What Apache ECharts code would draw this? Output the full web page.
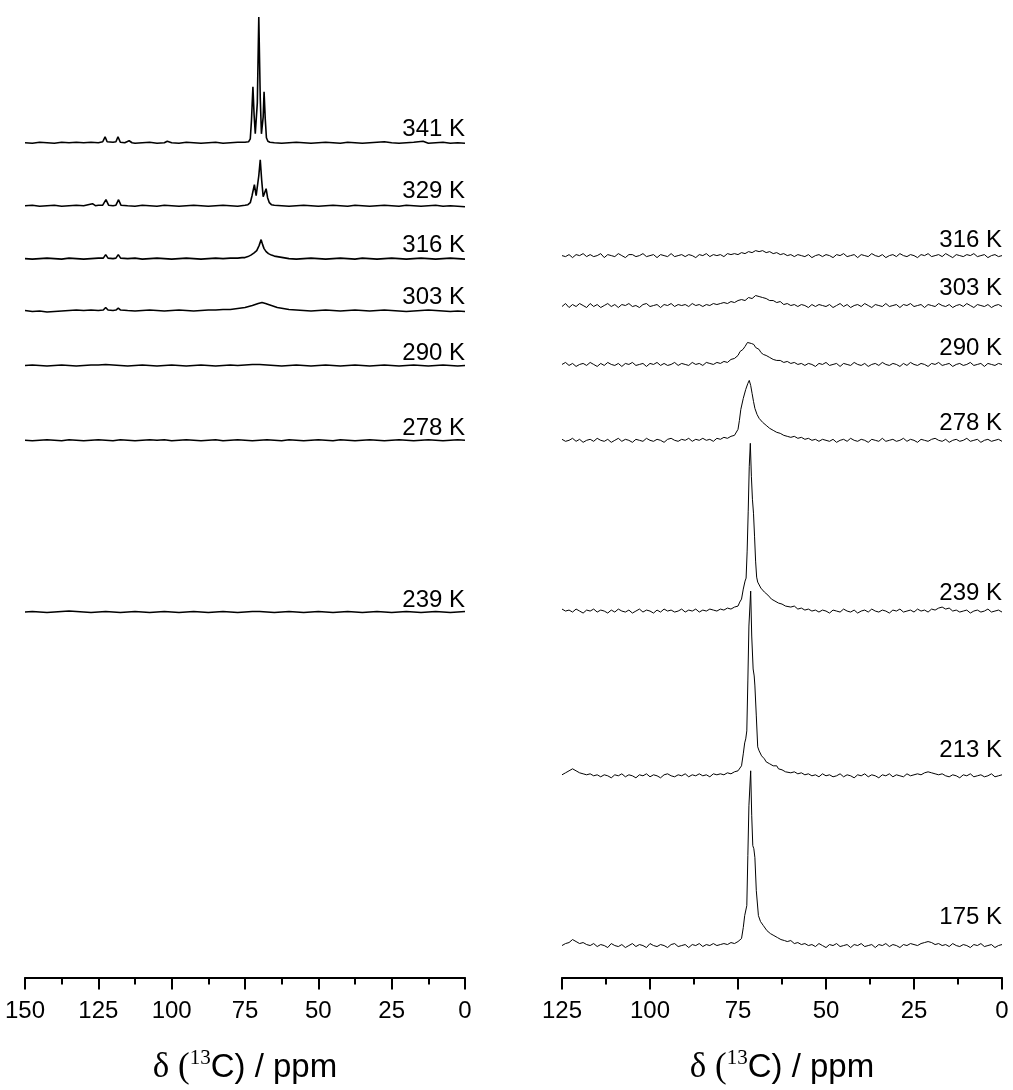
<!DOCTYPE html>
<html><head><meta charset="utf-8">
<script src="https://cdn.jsdelivr.net/npm/echarts@6/dist/echarts.min.js"></script>
<style>html,body{margin:0;padding:0;background:#fff}#c{width:1013px;height:1090px}</style>
</head><body><div id="c"></div>
<script>
// ---- Left panel spectra: [ppm, intensity above baseline] ----
const L341 = [[150,0],[147.5,-0.5],[145,0.5],[142.5,0],[140,-0.5],[137.5,0.5],[135,0],[132.5,0.5],[130,0],[127.5,0.5],[125,0],[123.5,1],[122.7,6],[122,1],[120,0.5],[119,1],[118.3,6],[117.5,0.5],[116,0],[114.5,2],[113.5,0],[112.5,-0.5],[110,0],[107.5,0.5],[105,-0.5],[102.5,0],[101.5,1.5],[100,0],[97.5,-0.5],[95,0.5],[92.5,0],[90,-0.5],[87.5,0],[85,0.5],[82.5,-0.5],[80,0],[77.5,0.5],[75,0.5],[73.8,1],[73.2,4],[72.8,22],[72.3,56],[71.9,28],[71.5,9],[71.1,8],[70.8,40],[70.3,126],[69.8,45],[69.4,9],[69.1,8],[68.8,26],[68.5,51],[68.1,24],[67.7,5],[67.2,1.5],[66.5,0.5],[65,0],[62.5,-0.5],[60,0],[57.5,0.5],[55,0],[52.5,-0.5],[50,0],[47.5,0.5],[45,0],[42.5,-0.5],[40,0.5],[37.5,0],[35,-0.5],[32.5,0],[30,0.5],[27.5,1],[25,0],[22.5,-0.5],[20,0],[17.5,0.5],[14.3,1.5],[12.5,-0.5],[10,0],[7.5,0.5],[5,-0.5],[2.5,0],[0,-0.5]];
const L329 = [[150,0],[147.5,0.5],[145,-0.5],[142.5,0],[140,0.5],[137.5,-0.5],[135,0],[132.5,0.5],[130,0],[127,2],[126,0],[125,0.5],[123.5,0.5],[122.4,6],[121.5,0.5],[120,0],[119,0.5],[118.1,6],[117.3,0.5],[115,0],[112.5,-0.5],[110,0.5],[107.5,0],[105,-0.5],[102.5,0.5],[100,0],[97.5,-0.5],[95,0],[92.5,0.5],[90,0],[87.5,-0.5],[85,0],[82.5,0.5],[80,0],[77.5,-0.5],[75,0.5],[74,1],[73.2,3],[72.6,10],[71.8,21],[71.2,10],[70.8,12],[70.3,30],[69.8,46],[69.3,25],[68.8,9],[68.3,11],[67.8,17],[67.3,8],[66.7,3],[66,1],[65,0.5],[62.5,0],[60,-0.5],[57.5,0],[55,0.5],[52.5,0],[50,-0.5],[47.5,0],[45,0.5],[42.5,0],[40,-0.5],[37.5,0.5],[35,0],[32.5,-0.5],[30,0],[27.5,0.5],[25,0],[22.5,-0.5],[20,0.5],[17.5,0],[15,-0.5],[12.5,0],[10,0.5],[7.5,-0.5],[5,0],[2.5,-0.5],[0,-1]];
const L316 = [[150,0],[147.5,-0.5],[145,0],[142.5,0.5],[140,0],[137.5,-0.5],[135,0.5],[132.5,0],[130,-0.5],[127.5,0],[125,0.5],[123.3,0.5],[122.5,4],[121.7,0.5],[120,0],[119,0.5],[118.2,4],[117.4,0.5],[115,0],[112.5,0.5],[110,-0.5],[107.5,0],[105,0.5],[102.5,0],[100,-0.5],[97.5,0],[95,0.5],[92.5,0],[90,-0.5],[87.5,0],[85,0.5],[82.5,0],[80,0.5],[77.5,0.5],[76,1],[75,1],[74,2],[73,3.5],[72,5.5],[71,8],[70.2,13],[69.5,19],[69,14],[68.5,10],[67.8,7],[67,5],[66,3.5],[65,2.5],[63,1.5],[61,0.5],[60,0],[57.5,-0.5],[55,0],[52.5,0.5],[50,0],[47.5,-0.5],[45,0],[42.5,0.5],[40,0],[37.5,-0.5],[35,0.5],[32.5,0],[30,-0.5],[27.5,0],[25,0.5],[22.5,0],[20,-0.5],[17.5,0],[15,0.5],[12.5,0],[10,-0.5],[7.5,0],[5,0.5],[2.5,0],[0,-0.5]];
const L303 = [[150,0],[147.5,-1],[145,-0.5],[142.5,-1.5],[140,-1],[137.5,-0.5],[135,0],[132.5,0.5],[130,0],[127.5,0.5],[125,0],[123.3,0.5],[122.5,3],[121.7,0.5],[120,0],[119,0.5],[118.2,2.5],[117.4,0.5],[115,0],[112.5,-0.5],[110,0],[107.5,0.5],[105,0],[102.5,-0.5],[100,0],[97.5,0.5],[95,0],[92.5,-0.5],[90,0],[87.5,0.5],[85,0.5],[82.5,1],[80,1],[77.5,2],[75,3],[72.5,5],[70.5,7],[69.2,8],[68,7],[66,5],[64,3],[62,2],[60,1],[57.5,0.5],[55,0],[52.5,-0.5],[50,0],[47.5,0.5],[45,0],[42.5,-0.5],[40,0],[37.5,0.5],[35,0],[32.5,-0.5],[30,0],[27.5,0.5],[25,0],[22.5,-0.5],[20,-1],[17.5,-0.5],[15,0],[12.5,0.5],[10,0],[7.5,-0.5],[5,-1],[2.5,-0.5],[0,-1]];
const L290 = [[150,0],[147.5,0.5],[145,0],[142.5,-0.5],[140,0],[137.5,0.5],[135,0],[132.5,-0.5],[130,0],[127.5,0.5],[125,0.5],[122.5,1],[120,0.5],[117.5,0],[115,-0.5],[112.5,0],[110,0.5],[107.5,0],[105,-0.5],[102.5,0],[100,0.5],[97.5,0],[95,-0.5],[92.5,0],[90,0.5],[87.5,0],[85,-0.5],[82.5,0],[80,0.5],[77.5,0],[75,0.5],[72.5,1],[70,1],[67.5,0.5],[65,0],[62.5,-0.5],[60,0],[57.5,0.5],[55,0],[52.5,-0.5],[50,0],[47.5,0.5],[45,0],[42.5,-0.5],[40,0],[37.5,0.5],[35,0],[32.5,-0.5],[30,0],[27.5,0.5],[25,0],[22.5,-0.5],[20,0],[17.5,0.5],[15,0],[12.5,-0.5],[10,0],[7.5,0.5],[5,0],[2.5,-0.5],[0,0]];
const L278 = [[150,0],[147.5,-0.5],[145,0],[142.5,0.5],[140,0],[137.5,-0.5],[135,0.5],[132.5,0],[130,-0.5],[127.5,0],[125,0.5],[122.5,0],[120,-0.5],[117.5,0.5],[115,0],[112.5,-0.5],[110,0],[107.5,0.5],[105,0],[102.5,0.5],[100,-0.5],[97.5,0],[95,0.5],[92.5,0],[90,-0.5],[87.5,0],[85,0.5],[82.5,-0.5],[80,0],[77.5,0.5],[75,0],[72.5,-0.5],[70,0],[67.5,0.5],[65,0],[62.5,-0.5],[60,0.5],[57.5,0],[55,-0.5],[52.5,0],[50,0.5],[47.5,0],[45,-0.5],[42.5,0.5],[40,0],[37.5,-0.5],[35,0],[32.5,0.5],[30,0],[27.5,-0.5],[25,0],[22.5,0.5],[20,0],[17.5,-0.5],[15,0],[12.5,0.5],[10,0],[7.5,-0.5],[5,0],[2.5,0.5],[0,0]];
const L239 = [[150,0],[147.5,0.5],[145,0],[142.5,-0.5],[140,0],[137.5,0.5],[135,1],[132.5,0.5],[130,0],[127.5,-0.5],[125,0],[122.5,0.5],[120,0],[117.5,-0.5],[115,0],[112.5,0.5],[110,0],[107.5,-0.5],[105,0],[102.5,0.5],[100,0],[97.5,-0.5],[95,0],[92.5,0.5],[90,0],[87.5,-0.5],[85,0],[82.5,0.5],[80,0],[77.5,-0.5],[75,0],[72.5,0.5],[70,0.5],[67.5,0],[65,-0.5],[62.5,0],[60,0.5],[57.5,0],[55,-0.5],[52.5,0],[50,0.5],[47.5,0],[45,-0.5],[42.5,0],[40,0.5],[37.5,0],[35,-0.5],[32.5,0],[30,0.5],[27.5,0],[25,-0.5],[22.5,0],[20,0.5],[17.5,0],[15,-0.5],[12.5,0],[10,0.5],[7.5,0],[5,-0.5],[2.5,0],[0,0.5]];

// ---- Right panel spectra ----
const R316 = [[125,0],[124,-1],[123,1],[122,-2],[121,1],[120,0],[119,2],[118,-1],[117,1],[116,-1],[115,0],[114,2],[113,-2],[112,1],[111,0],[110,-1],[109,2],[108,0],[107,-2],[106,1],[105,1],[104,-1],[103,0],[102,2],[101,-1],[100,0],[99,1],[98,-2],[97,1],[96,0],[95,-1],[94,2],[93,-1],[92,0],[91,1],[90,-1],[89,1],[88,0],[87,-2],[86,1],[85,0],[84,2],[83,-1],[82,1],[81,0],[80,1],[79,-1],[78,2],[77,1],[76,2],[75,1],[74,3],[73,2],[72,4],[71,3],[70,5],[69,4],[68,5],[67,3],[66,4],[65,2],[64,3],[63,1],[62,2],[61,0],[60,1],[59,-1],[58,1],[57,0],[56,-1],[55,1],[54,-2],[53,0],[52,1],[51,-1],[50,1],[49,0],[48,-2],[47,1],[46,0],[45,2],[44,-1],[43,0],[42,1],[41,-2],[40,1],[39,0],[38,-1],[37,2],[36,0],[35,-1],[34,1],[33,-2],[32,0],[31,1],[30,-1],[29,2],[28,0],[27,-1],[26,1],[25,0],[24,-2],[23,1],[22,0],[21,2],[20,-1],[19,0],[18,1],[17,-1],[16,2],[15,0],[14,-2],[13,1],[12,0],[11,-1],[10,1],[9,0],[8,2],[7,-1],[6,0],[5,1],[4,-2],[3,0],[2,1],[1,-1],[0,0]];
const R303 = [[125,-1],[124,2],[123,-2],[122,1],[121,-1],[120,2],[119,0],[118,-2],[117,2],[116,-1],[115,1],[114,-2],[113,0],[112,2],[111,-1],[110,1],[109,-2],[108,1],[107,0],[106,2],[105,-1],[104,0],[103,-2],[102,1],[101,2],[100,-1],[99,0],[98,1],[97,-2],[96,1],[95,0],[94,2],[93,-1],[92,1],[91,0],[90,1],[89,-1],[88,2],[87,0],[86,1],[85,-1],[84,1],[83,0],[82,2],[81,1],[80,2],[79,3],[78,2],[77,4],[76,3],[75,5],[74,6],[73,5],[72,8],[71,7],[70,10],[69,9],[68,8],[67,7],[66,5],[65,5],[64,3],[63,4],[62,1],[61,2],[60,0],[59,1],[58,-1],[57,1],[56,0],[55,-2],[54,1],[53,-1],[52,1],[51,0],[50,-1],[49,1],[48,-2],[47,0],[46,2],[45,-1],[44,1],[43,-2],[42,0],[41,1],[40,-1],[39,2],[38,0],[37,-2],[36,1],[35,0],[34,-1],[33,2],[32,-1],[31,0],[30,1],[29,-2],[28,1],[27,0],[26,2],[25,-1],[24,0],[23,1],[22,-2],[21,1],[20,0],[19,-1],[18,2],[17,0],[16,-1],[15,1],[14,-2],[13,0],[12,1],[11,-1],[10,2],[9,0],[8,-2],[7,1],[6,0],[5,-1],[4,1],[3,-2],[2,0],[1,1],[0,-1]];
const R290 = [[125,0],[124,2],[123,-1],[122,1],[121,-2],[120,0],[119,1],[118,-1],[117,2],[116,0],[115,-2],[114,1],[113,-1],[112,2],[111,0],[110,-1],[109,1],[108,-2],[107,1],[106,0],[105,2],[104,-1],[103,0],[102,1],[101,-2],[100,1],[99,0],[98,2],[97,-1],[96,1],[95,-1],[94,0],[93,2],[92,-1],[91,1],[90,0],[89,-1],[88,2],[87,0],[86,1],[85,-1],[84,2],[83,1],[82,0],[81,2],[80,1],[79,3],[78,2],[77,5],[76,6],[75,9],[74.4,13],[73.6,15],[73,18],[72.3,22],[71.8,24],[71.2,21],[70.5,20],[70,17],[69,15],[68.5,12],[67.8,10],[67,9],[66,7],[65,5],[64,4],[63,4],[62,2],[61,3],[60,1],[59,2],[58,0],[57,1],[56,-1],[55,1],[54,0],[53,-2],[52,1],[51,0],[50,2],[49,-1],[48,0],[47,1],[46,-2],[45,1],[44,0],[43,-1],[42,2],[41,0],[40,-1],[39,1],[38,-2],[37,0],[36,1],[35,-1],[34,2],[33,0],[32,-1],[31,1],[30,0],[29,-2],[28,1],[27,-1],[26,2],[25,0],[24,-1],[23,1],[22,0],[21,-2],[20,1],[19,0],[18,2],[17,-1],[16,0],[15,1],[14,-2],[13,0],[12,1],[11,-1],[10,0],[9,2],[8,-1],[7,0],[6,1],[5,-2],[4,1],[3,0],[2,-1],[1,1],[0,0]];
const R278 = [[125,1],[124,-1],[123,0],[122,2],[121,-1],[120,1],[119,-2],[118,0],[117,1],[116,-1],[115,2],[114,0],[113,-1],[112,1],[111,-2],[110,0],[109,2],[108,-1],[107,1],[106,0],[105,-2],[104,1],[103,0],[102,-1],[101,2],[100,0],[99,-1],[98,1],[97,0],[96,-2],[95,1],[94,2],[93,0],[92,-1],[91,1],[90,0],[89,2],[88,-1],[87,1],[86,0],[85,2],[84,0],[83,1],[82,-1],[81,2],[80,1],[79,3],[78,2],[77,4],[76,5],[75,11],[74.6,20],[74.2,31],[73.5,42],[72.8,51],[72.2,57],[71.8,60],[71.4,55],[71,47],[70.6,39],[70.2,32],[69.6,26],[69,22],[68.5,21],[68,18],[67.5,17],[67,15],[66.5,14],[66,12],[65.5,12],[65,10],[64.5,11],[64,8],[63.5,9],[63,7],[62.5,7],[62,5],[61.5,6],[61,4],[60.5,5],[60,3],[59,4],[58,2],[57,3],[56,1],[55,2],[54,0],[53,1],[52,-1],[51,1],[50,0],[49,-1],[48,1],[47,-2],[46,0],[45,1],[44,-1],[43,2],[42,0],[41,-1],[40,1],[39,0],[38,-2],[37,1],[36,0],[35,-1],[34,2],[33,-1],[32,0],[31,1],[30,-1],[29,0],[28,2],[27,-1],[26,1],[25,0],[24,-2],[23,1],[22,0],[21,-1],[20,1],[19,2],[18,0],[17,-1],[16,1],[15,-2],[14,0],[13,1],[12,-1],[11,0],[10,2],[9,-1],[8,0],[7,1],[6,-2],[5,0],[4,1],[3,-1],[2,0],[1,1],[0,-1]];
const R239 = [[125,2],[124.5,4],[124,0],[123,1],[122,-1],[121,2],[120,0],[119,-2],[118,1],[117,0],[116,2],[115,-1],[114,1],[113,0],[112,-2],[111,1],[110,-1],[109,2],[108,0],[107,-1],[106,1],[105,-2],[104,0],[103,2],[102,-1],[101,1],[100,0],[99,-2],[98,1],[97,-1],[96,2],[95,0],[94,1],[93,-1],[92,0],[91,2],[90,-1],[89,1],[88,0],[87,2],[86,-1],[85,1],[84,0],[83,2],[82,1],[81,0],[80,2],[79,1],[78,3],[77,2],[76,4],[75,5],[74.5,9],[74,12],[73.5,22],[73,30],[72.7,33],[72.4,60],[72.1,100],[71.8,145],[71.5,168],[71.2,135],[70.9,112],[70.6,98],[70.3,75],[70,50],[69.7,34],[69.4,29],[69,27],[68.5,23],[68,22],[67.5,19],[67,18],[66.5,16],[66,15],[65.5,12],[65,13],[64.5,10],[64,11],[63.5,8],[63,9],[62.5,7],[62,8],[61.5,5],[61,6],[60,4],[59,5],[58,2],[57,3],[56,1],[55,2],[54,0],[53,1],[52,-1],[51,1],[50,0],[49,-2],[48,1],[47,0],[46,-1],[45,2],[44,0],[43,-1],[42,1],[41,-2],[40,0],[39,1],[38,-1],[37,2],[36,0],[35,-1],[34,1],[33,0],[32,-2],[31,1],[30,0],[29,2],[28,-1],[27,0],[26,1],[25,-1],[24,2],[23,0],[22,1],[21,-1],[20,2],[19,1],[18,3],[17,4],[16,2],[15,3],[14,0],[13,1],[12,-1],[11,0],[10,1],[9,-2],[8,0],[7,1],[6,-1],[5,0],[4,2],[3,-1],[2,0],[1,1],[0,-1]];
const R213 = [[125,1],[124,3],[123,5],[122,7],[121,5],[120,3],[119,2],[118,1],[117,2],[116,0],[115,1],[114,-1],[113,1],[112,0],[111,-2],[110,1],[109,0],[108,2],[107,-1],[106,1],[105,0],[104,-2],[103,1],[102,0],[101,2],[100,-1],[99,1],[98,0],[97,-2],[96,1],[95,2],[94,0],[93,-1],[92,1],[91,0],[90,2],[89,-1],[88,1],[87,0],[86,2],[85,0],[84,1],[83,-1],[82,2],[81,1],[80,2],[79,1],[78,3],[77,2],[76,4],[75,5],[74.5,7],[74,10],[73.5,22],[73.1,33],[72.8,37],[72.5,45],[72.2,95],[71.9,150],[71.4,185],[71.1,140],[70.7,107],[70.4,100],[70.2,90],[69.8,60],[69.4,29],[69,25],[68.3,20],[68,18],[67.5,17],[67,14],[66.5,15],[66,12],[65.5,13],[65,10],[64.5,9],[64,10],[63.5,7],[63,8],[62.5,6],[62,7],[61.5,4],[61,5],[60,3],[59,4],[58,2],[57,3],[56,1],[55,2],[54,0],[53,1],[52,-1],[51,2],[50,0],[49,1],[48,-1],[47,0],[46,2],[45,-1],[44,1],[43,0],[42,-2],[41,1],[40,0],[39,2],[38,-1],[37,1],[36,0],[35,-2],[34,1],[33,0],[32,2],[31,-1],[30,1],[29,0],[28,-1],[27,2],[26,0],[25,1],[24,2],[23,1],[22,3],[21,4],[20,3],[19,2],[18,1],[17,2],[16,0],[15,-1],[14,1],[13,0],[12,-2],[11,1],[10,0],[9,2],[8,-1],[7,0],[6,1],[5,-1],[4,0],[3,2],[2,-1],[1,0],[0,1]];
const R175 = [[125,0],[124,2],[123,3],[122,6],[121,4],[120,2],[119,3],[118,1],[117,0],[116,2],[115,-1],[114,1],[113,0],[112,-2],[111,2],[110,0],[109,-1],[108,1],[107,-2],[106,0],[105,2],[104,-1],[103,1],[102,0],[101,-2],[100,2],[99,0],[98,-1],[97,1],[96,0],[95,-2],[94,1],[93,2],[92,-1],[91,0],[90,1],[89,-2],[88,1],[87,0],[86,2],[85,-1],[84,1],[83,0],[82,2],[81,0],[80,1],[79,2],[78,1],[77,3],[76,2],[75,4],[74.5,5],[74,7],[73.5,18],[73.1,30],[72.8,32],[72.5,40],[72.2,90],[71.9,140],[71.4,175],[71.1,130],[70.8,100],[70.5,97],[70.2,88],[69.8,55],[69.2,30],[68.6,24],[67.8,20],[67.3,18],[66.8,15],[66.3,16],[65.8,12],[65.3,13],[64.8,10],[64.3,11],[63.8,8],[63.3,9],[62.8,6],[62.3,7],[61.8,5],[61,4],[60,5],[59,2],[58,3],[57,1],[56,2],[55,0],[54,1],[53,-1],[52,2],[51,0],[50,-2],[49,1],[48,0],[47,2],[46,-1],[45,0],[44,1],[43,-2],[42,1],[41,0],[40,2],[39,-1],[38,0],[37,1],[36,-2],[35,1],[34,0],[33,2],[32,-1],[31,1],[30,0],[29,-2],[28,1],[27,0],[26,2],[25,1],[24,0],[23,2],[22,3],[21,4],[20,3],[19,1],[18,2],[17,0],[16,1],[15,-1],[14,2],[13,0],[12,-1],[11,1],[10,0],[9,-2],[8,1],[7,0],[6,2],[5,-1],[4,0],[3,1],[2,-2],[1,0],[0,1]];

// ---- Stacking, labels, ticks ----
const leftTemps   = ['341 K','329 K','316 K','303 K','290 K','278 K','239 K'];
const leftSpectra = [L341, L329, L316, L303, L290, L278, L239];
const leftOffsets = [836, 773, 720, 668, 613, 538, 366];
const leftLabelY  = [849, 787, 733, 681, 625, 550, 378];

const rightTemps   = ['316 K','303 K','290 K','278 K','239 K','213 K','175 K'];
const rightSpectra = [R316, R303, R290, R278, R239, R213, R175];
const rightOffsets = [723, 673, 614, 538, 367, 202, 32];
const rightLabelY  = [738, 690, 630, 555, 385, 227, 60];

const leftRange  = [0, 150];
const rightRange = [0, 125];
const tickStep = 25;
const axisTitle = '{a|δ (}{b|13}{c|C) / ppm}';

const chart = echarts.init(document.getElementById('c'), null, {renderer: 'canvas'});

function makeX(grid, range) {
  return {
    gridIndex: grid, type: 'value', min: range[0], max: range[1], interval: tickStep, inverse: true,
    axisLine: {show: true, onZero: false, lineStyle: {color: '#000', width: 2}},
    axisTick: {show: true, inside: false, length: 12, lineStyle: {color: '#000', width: 2}},
    minorTick: {show: true, splitNumber: 2, length: 7, lineStyle: {color: '#000', width: 2}},
    splitLine: {show: false}, minorSplitLine: {show: false},
    axisLabel: {color: '#000', fontSize: 24, fontFamily: 'Liberation Sans', margin: 22},
    name: axisTitle, nameLocation: 'middle', nameGap: 70,
    nameTextStyle: {color: '#000', rich: {
      a: {fontFamily: 'Liberation Serif', fontSize: 35, color: '#000', lineHeight: 40},
      b: {fontFamily: 'Liberation Serif', fontSize: 21, color: '#000', lineHeight: 24, verticalAlign: 'top'},
      c: {fontFamily: 'Liberation Sans', fontSize: 33, color: '#000', lineHeight: 40}
    }}
  };
}
function makeY(grid) {
  return {gridIndex: grid, type: 'value', min: 0, max: 979, show: false, splitLine: {show: false}};
}

const series = [];
function addPanel(idx, spectra, offsets, temps, labelY, lw) {
  spectra.forEach((sp, i) => {
    series.push({
      type: 'line', xAxisIndex: idx, yAxisIndex: idx, showSymbol: false, symbol: 'none',
      silent: true, animation: false,
      lineStyle: {color: '#000', width: lw},
      data: sp.map(p => [p[0], offsets[i] + p[1]])
    });
  });
  series.push({
    type: 'scatter', xAxisIndex: idx, yAxisIndex: idx, symbolSize: 0, silent: true,
    itemStyle: {color: '#000', opacity: 1},
    data: temps.map((t, i) => ({name: t, value: [0, labelY[i]]})),
    label: {show: true, formatter: '{b}', position: 'left', distance: 0, color: '#000', opacity: 1,
            fontSize: 24, fontFamily: 'Liberation Sans'}
  });
}
addPanel(0, leftSpectra, leftOffsets, leftTemps, leftLabelY, 1.6);
addPanel(1, rightSpectra, rightOffsets, rightTemps, rightLabelY, 1.0);

chart.setOption({
  animation: false,
  backgroundColor: '#fff',
  grid: [
    {left: 25, width: 440, top: 0, height: 979},
    {left: 562, width: 440, top: 0, height: 979}
  ],
  xAxis: [makeX(0, leftRange), makeX(1, rightRange)],
  yAxis: [makeY(0), makeY(1)],
  series: series
});
</script>
</body></html>
